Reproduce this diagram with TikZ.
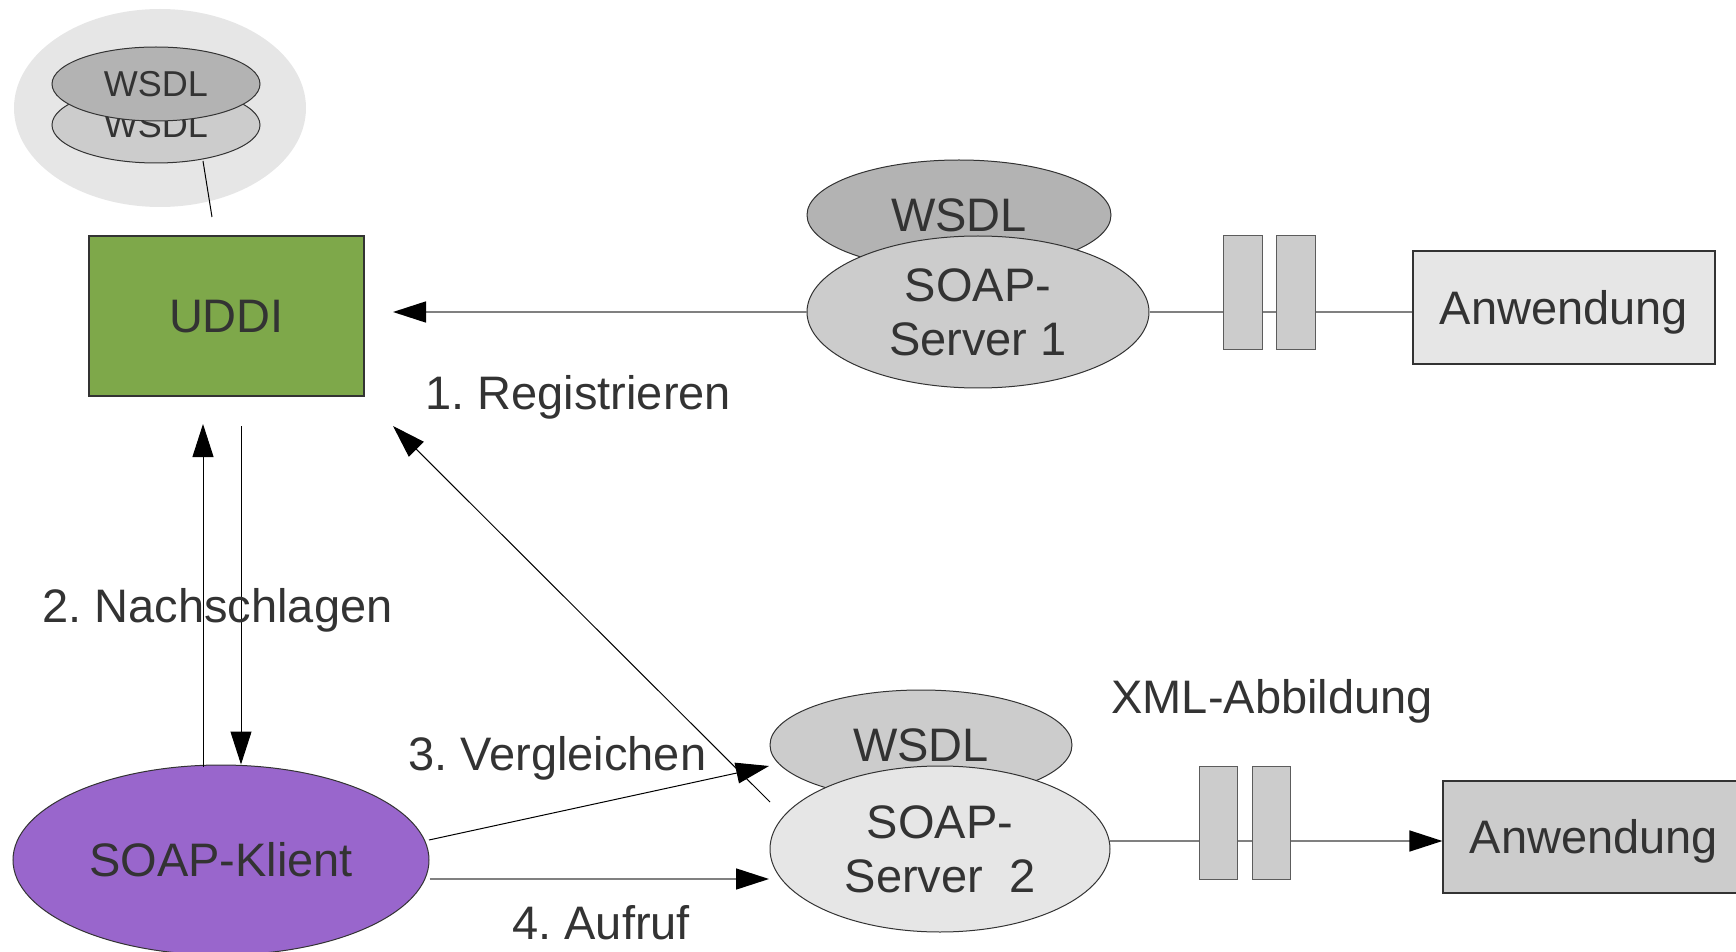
\documentclass[tikz,border=0pt]{standalone}
\usepackage{fontspec}
\setmainfont{Liberation Sans}
\usetikzlibrary{arrows.meta,shapes.geometric,calc}
\frenchspacing

\definecolor{txt}{HTML}{333333}
\definecolor{halo}{HTML}{E6E6E6}
\definecolor{gdark}{HTML}{B3B3B3}
\definecolor{gmid}{HTML}{CCCCCC}
\definecolor{glight}{HTML}{E6E6E6}
\definecolor{uddigreen}{HTML}{7EA84A}
\definecolor{klientviolet}{HTML}{9966CC}
\definecolor{wire}{HTML}{808080}
\definecolor{edge}{HTML}{333333}

\tikzset{
  bigfont/.style={font=\fontsize{23.5}{27}\selectfont, text=txt},
  smallfont/.style={font=\fontsize{18}{21}\selectfont, text=txt},
  capc/.style={text height=16.8pt, text depth=0pt},
  capcsmall/.style={text height=12.9pt, text depth=0pt},
  oval/.style={ellipse, inner sep=0pt, draw=edge, line width=0.5pt},
  boxnode/.style={rectangle, inner sep=0pt, draw=edge, line width=0.6pt},
  plug/.style={rectangle, inner sep=0pt, draw=edge!80, line width=0.5pt, fill=gmid,
               minimum width=19.5pt, minimum height=57pt},
  thinline/.style={draw=black, line width=0.5pt},
  wireline/.style={draw=wire, line width=0.8pt},
  tip/.style={-{Triangle[length=16.5pt,width=10.5pt,color=black]}},
  lbl/.style={bigfont, anchor=base west, inner sep=0pt}
}

\begin{document}
\begin{tikzpicture}[x=0.5pt,y=-0.5pt]
\useasboundingbox (0,0) rectangle (1736,952);

% UDDI registry with its stored WSDL documents
\node[ellipse, fill=halo, inner sep=0pt, minimum width=146pt, minimum height=99pt] (repo) at (160,108) {};
\node[oval, fill=gmid, minimum width=104pt, minimum height=38pt, smallfont, capcsmall] (wsdlB) at (156,125) {WSDL};
\node[oval, fill=gdark, minimum width=104pt, minimum height=37pt, smallfont, capcsmall] (wsdlA) at (156,84) {WSDL};
\coordinate (repoLinkA) at (203,161);
\coordinate (repoLinkB) at (212,217);
\draw[thinline] (repoLinkA) -- (repoLinkB);

\node[boxnode, fill=uddigreen, minimum width=137.5pt, minimum height=80pt, bigfont, capc] (uddi) at (226.5,316) {UDDI};

% SOAP server 1
\node[oval, fill=gdark, minimum width=152pt, minimum height=55pt, bigfont, capc] (wsdl1) at (959,215) {WSDL};
\node[oval, fill=gmid, minimum width=171pt, minimum height=76pt, bigfont, align=center] (soap1) at (978,312) {SOAP-\\Server 1};
\node[boxnode, fill=glight, minimum width=151pt, minimum height=56.5pt, bigfont, capc] (app1) at (1564,307.5) {Anwendung};
\draw[wireline] (soap1.east) -- (soap1.east -| app1.west);
\node[plug] (plug1a) at (1242.5,293) {};
\node[plug] (plug1b) at (1295.5,293) {};

% SOAP server 2
\node[oval, fill=gmid, minimum width=151pt, minimum height=55pt, bigfont, capc] (wsdl2) at (921,745) {WSDL};
\node[oval, fill=glight, minimum width=170pt, minimum height=83pt, bigfont, align=center] (soap2) at (940,849) {SOAP-\\Server\ \ 2};
\node[boxnode, fill=gmid, minimum width=151pt, minimum height=56pt, bigfont, capc] (app2) at (1594,837) {Anwendung};
\coordinate (wire2) at (1110,841);
\draw[wireline, tip] (wire2) -- (wire2 -| app2.west);
\node[plug, minimum width=19pt, minimum height=56.5pt] (plug2a) at (1218,822.5) {};
\node[plug, minimum width=19pt, minimum height=56.5pt] (plug2b) at (1271,822.5) {};

% SOAP client
\node[oval, fill=klientviolet, minimum width=208pt, minimum height=95pt, bigfont, capc] (klient) at (221,860) {SOAP-Klient};

% 1. register: server 1 -> UDDI
\coordinate (regTip) at (393,312);
\draw[wireline, tip] (soap1.west) -- (regTip);

% 1. register: server 2 -> UDDI
\coordinate (reg2Start) at (770,802);
\coordinate (reg2Tip) at (393,426);
\draw[thinline, tip] (reg2Start) -- (reg2Tip);

% 2. lookup between client and UDDI
\coordinate (lookUpTip) at (203,424);
\coordinate (lookDownStart) at (241,426);
\draw[thinline, tip] (klient.north -| lookUpTip) ++(0,2) -- (lookUpTip);
\draw[thinline, tip] (lookDownStart) -- (lookDownStart |- klient.north);

% 3. compare: client -> WSDL of server 2
\coordinate (cmpTip) at (769,766);
\coordinate (cmpStart) at (429,840);
\draw[thinline, tip] (cmpStart) -- (cmpTip);

% 4. call: client -> server 2
\coordinate (callTip) at (769,879);
\draw[wireline, tip] (klient.east |- callTip) -- (callTip);

% step labels
\node[lbl] (lblReg) at (425,409) {1. Registrieren};
\node[lbl] (lblLook) at (42,622) {2. Nachschlagen};
\node[lbl] (lblCmp) at (408,770) {3. Vergleichen};
\node[lbl] (lblCall) at (512,939) {4. Aufruf};
\node[lbl] (lblXml) at (1111,713) {XML-Abbildung};
\end{tikzpicture}
\end{document}
